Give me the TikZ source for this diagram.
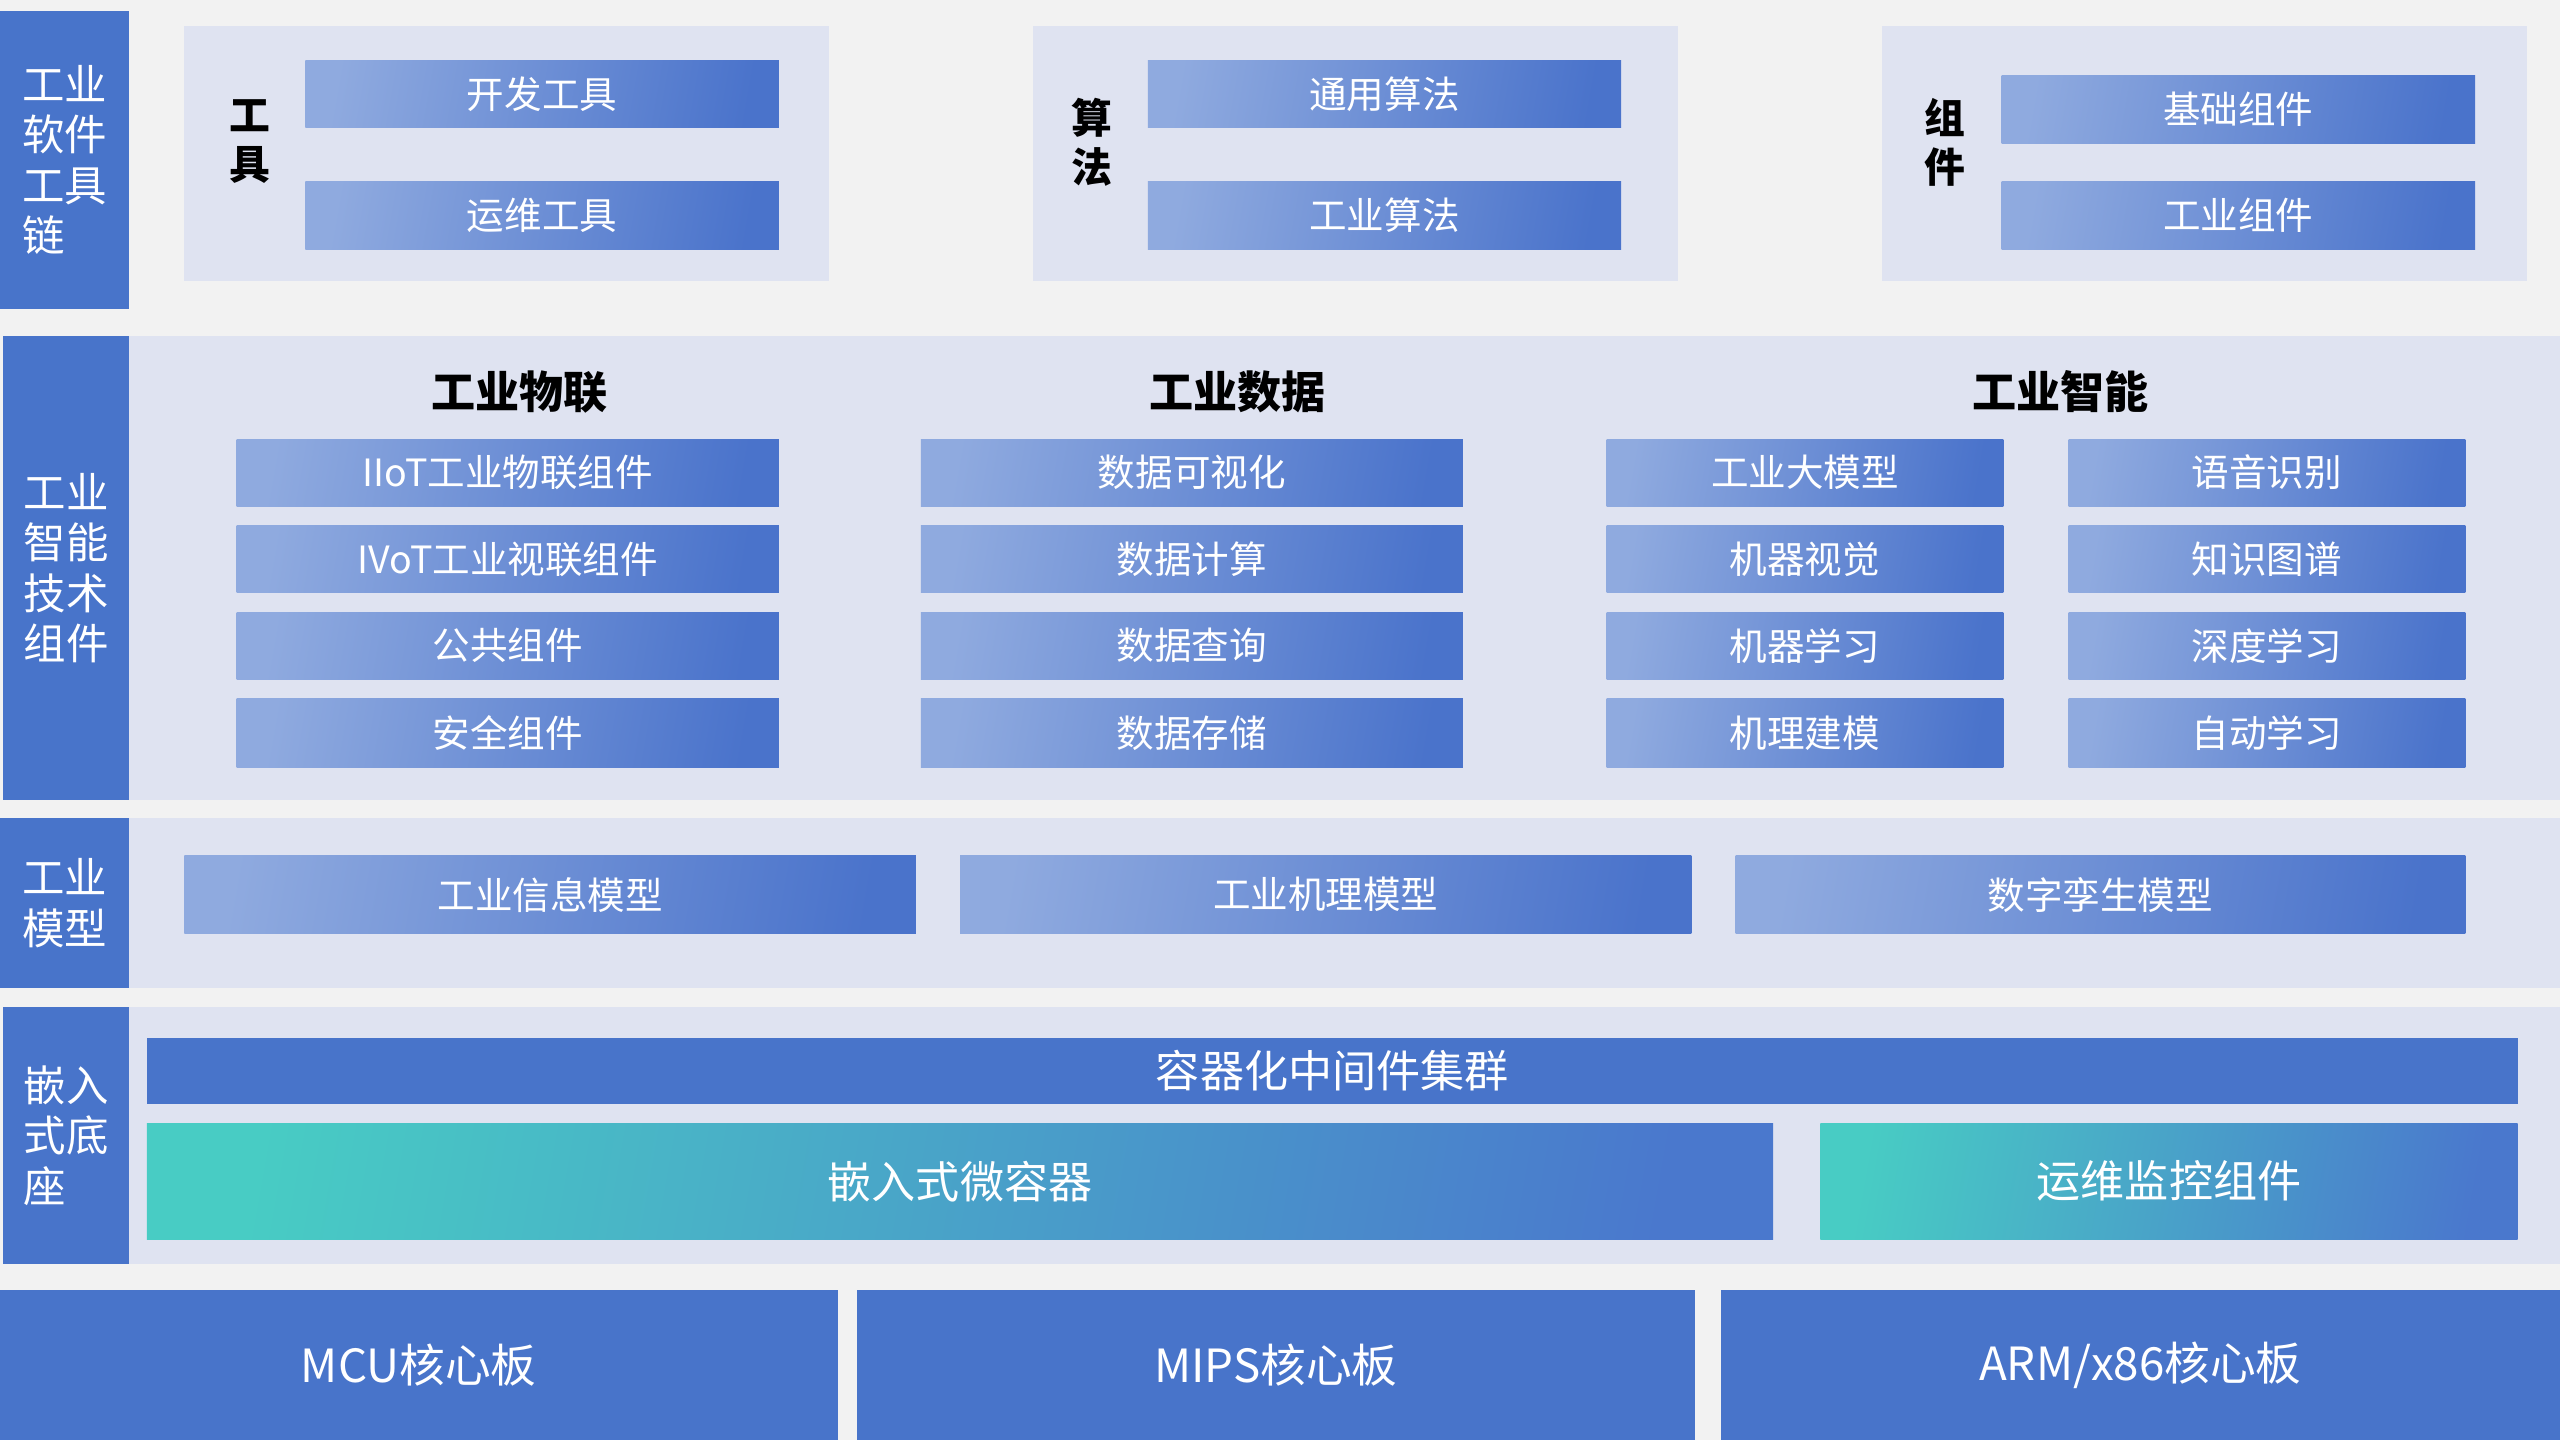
\documentclass[tikz,border=0pt]{standalone}
\usepackage{fontspec}
\setmainfont{Noto Sans CJK SC}
\usetikzlibrary{positioning}
\definecolor{bgc}{HTML}{F2F2F2}
\definecolor{barc}{HTML}{4874CA}
\definecolor{panelc}{HTML}{DFE3F1}
\definecolor{gl}{HTML}{8FAADF}
\definecolor{gm}{HTML}{7F9CD9}
\definecolor{gr}{HTML}{4A73CB}
\definecolor{tl}{HTML}{48CCC4}
\definecolor{tm}{HTML}{49B5CB}
\definecolor{tr}{HTML}{4A78CD}
\tikzset{
  sz/.style 2 args={minimum width=#1*0.5pt, minimum height=#2*0.5pt},
  base/.style={inner sep=0pt, outer sep=0pt, draw=none},
  barbox/.style={base, fill=barc, text=white, align=left, font=\fontsize{13pt}{15.5pt}\selectfont},
  panel/.style={base, fill=panelc},
  gbox/.style={base, left color=gl, middle color=gm, right color=gr, shading angle=80, text=white, font=\fontsize{11.5pt}{13pt}\selectfont},
  tbox/.style={base, left color=tl, middle color=tm, right color=tr, shading angle=80, text=white, font=\fontsize{13.5pt}{15pt}\selectfont},
  sbox/.style={base, fill=barc, text=white, font=\fontsize{13.5pt}{15pt}\selectfont},
  board/.style={base, fill=barc, text=white, font=\fontsize{14pt}{16pt}\selectfont},
  hdr/.style={base, font=\bfseries\fontsize{13.5pt}{15pt}\selectfont, text=black},
  vlab/.style={base, font=\bfseries\fontsize{12.5pt}{15pt}\selectfont, text=black, align=center},
}
\begin{document}
\begin{tikzpicture}[x=0.5pt, y=-0.5pt]
\fill[bgc] (0,0) rectangle (1568,882);
\useasboundingbox (0,0) rectangle (1568,882);

% Row 1
\node[barbox, sz={79}{182}] (bar1) at (39.5,98) {工业\\软件\\工具\\链};
\node[panel, sz={395}{156}] (ptool) at (310.5,94) {};
\node[panel, sz={395}{156}] (palgo) at (830.5,94) {};
\node[panel, sz={395}{156}] (pcomp) at (1350.5,94) {};
\node[vlab] (ltool) at (153,87) {工\\具};
\node[vlab] (lalgo) at (669,87) {算\\法};
\node[vlab] (lcomp) at (1191,87) {组\\件};
\node[gbox, sz={290}{41}] (t1) at (332,57.5) {开发工具};
\node[gbox, sz={290}{42}] (t2) at (332,132) {运维工具};
\node[gbox, sz={290}{41}] (a1) at (848,57.5) {通用算法};
\node[gbox, sz={290}{42}] (a2) at (848,132) {工业算法};
\node[gbox, sz={290}{42}] (c1) at (1371,67) {基础组件};
\node[gbox, sz={290}{42}] (c2) at (1371,132) {工业组件};

% Row 2
\node[panel, sz={1489}{284}] (p2) at (823.5,348) {};
\node[barbox, sz={77}{284}] (bar2) at (40.5,348) {工业\\智能\\技术\\组件};
\node[hdr] (h1) at (318,240) {工业物联};
\node[hdr] (h2) at (758,240) {工业数据};
\node[hdr] (h3) at (1262,240) {工业智能};
\node[gbox, sz={332}{41}] (i1) at (311,289.5) {IIoT工业物联组件};
\node[gbox, sz={332}{41}] (i2) at (311,342.5) {IVoT工业视联组件};
\node[gbox, sz={332}{41}] (i3) at (311,395.5) {公共组件};
\node[gbox, sz={332}{42}] (i4) at (311,449) {安全组件};
\node[gbox, sz={332}{41}] (d1) at (730,289.5) {数据可视化};
\node[gbox, sz={332}{41}] (d2) at (730,342.5) {数据计算};
\node[gbox, sz={332}{41}] (d3) at (730,395.5) {数据查询};
\node[gbox, sz={332}{42}] (d4) at (730,449) {数据存储};
\node[gbox, sz={243}{41}] (m1) at (1105.5,289.5) {工业大模型};
\node[gbox, sz={243}{41}] (m2) at (1105.5,342.5) {机器视觉};
\node[gbox, sz={243}{41}] (m3) at (1105.5,395.5) {机器学习};
\node[gbox, sz={243}{42}] (m4) at (1105.5,449) {机理建模};
\node[gbox, sz={243}{41}] (n1) at (1388.5,289.5) {语音识别};
\node[gbox, sz={243}{41}] (n2) at (1388.5,342.5) {知识图谱};
\node[gbox, sz={243}{41}] (n3) at (1388.5,395.5) {深度学习};
\node[gbox, sz={243}{42}] (n4) at (1388.5,449) {自动学习};

% Row 3
\node[panel, sz={1489}{104}] (p3) at (823.5,553) {};
\node[barbox, sz={79}{104}] (bar3) at (39.5,553) {工业\\模型};
\node[gbox, sz={448}{48}] (md1) at (337,548) {工业信息模型};
\node[gbox, sz={448}{48}] (md2) at (812,548) {工业机理模型};
\node[gbox, sz={447}{48}] (md3) at (1286.5,548) {数字孪生模型};

% Row 4
\node[panel, sz={1489}{157}] (p4) at (823.5,695.5) {};
\node[barbox, sz={77}{157}] (bar4) at (40.5,695.5) {嵌入\\式底\\座};
\node[sbox, sz={1452}{40}] (cl) at (816,656) {容器化中间件集群};
\node[tbox, sz={996}{71}] (mc) at (588,723.5) {嵌入式微容器};
\node[tbox, sz={427}{71}] (om) at (1328.5,723.5) {运维监控组件};

% Row 5
\node[board, sz={513}{92}] (b1) at (256.5,836) {MCU核心板};
\node[board, sz={513}{92}] (b2) at (781.5,836) {MIPS核心板};
\node[board, sz={514}{92}] (b3) at (1311,836) {ARM/x86核心板};
\end{tikzpicture}
\end{document}
